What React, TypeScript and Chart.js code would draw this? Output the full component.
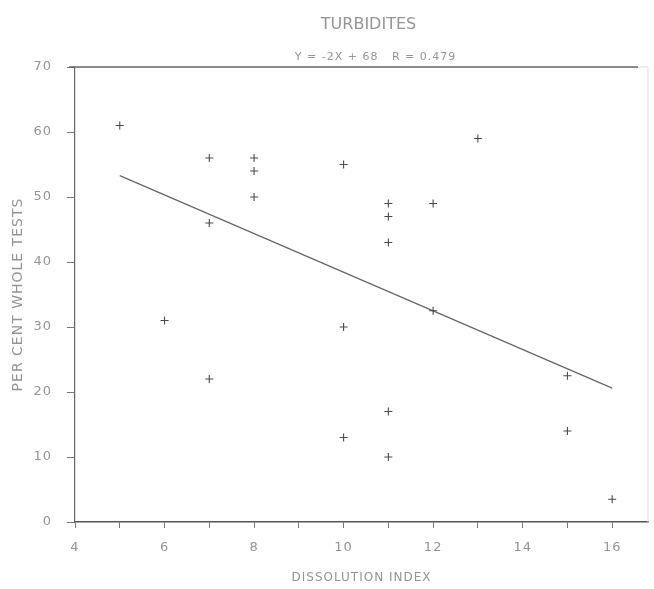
import { useEffect, useRef } from 'react';
import { Chart, registerables } from 'chart.js';

Chart.register(...registerables);

const TITLE = 'TURBIDITES';
const SUBTITLE = 'Y = -2X + 68   R = 0.479';
const X_TITLE = 'DISSOLUTION INDEX';
const Y_TITLE = 'PER CENT WHOLE TESTS';

const X_VALUES = [5, 6, 7, 7, 7, 8, 8, 8, 10, 10, 10, 11, 11, 11, 11, 11, 12, 12, 13, 15, 15, 16];
const Y_VALUES = [61, 31, 56, 46, 22, 56, 54, 50, 55, 30, 13, 49, 47, 43, 17, 10, 49, 32.5, 59, 22.5, 14, 3.5];

const FIT_X = [5, 16];
const FIT_Y = [53.3, 20.6];

const X_TICKS = [4, 5, 6, 7, 8, 9, 10, 11, 12, 13, 14, 15, 16];
const X_TICK_LABELS = ['4', '', '6', '', '8', '', '10', '', '12', '', '14', '', '16'];
const Y_TICKS = [0, 10, 20, 30, 40, 50, 60, 70];
const Y_TICK_LABELS = ['0', '10', '20', '30', '40', '50', '60', '70'];

const TEXT_COLOR = '#949494';
const FONT_FAMILY = "'DejaVu Sans', sans-serif";

export default function App() {
  const ref = useRef<HTMLCanvasElement>(null);

  useEffect(() => {
    document.body.style.margin = '0';
    const framePlugin = {
      id: 'frameAndTitles',
      beforeDraw(chart: any) {
        (chart.ctx as any).letterSpacing = '1px';
      },
      afterDraw(chart: any) {
        const { ctx, chartArea } = chart;
        const { left, right, top, bottom } = chartArea;
        ctx.save();
        ctx.strokeStyle = '#666';
        ctx.lineWidth = 1.5;
        ctx.beginPath();
        ctx.moveTo(left - 6, top);
        ctx.lineTo(right - 10, top);
        ctx.stroke();
        ctx.strokeStyle = '#ddd';
        ctx.lineWidth = 1;
        ctx.beginPath();
        ctx.moveTo(right - 10, top);
        ctx.lineTo(right, top);
        ctx.moveTo(right, top);
        ctx.lineTo(right, bottom);
        ctx.stroke();
        const cx = (left + right) / 2;
        ctx.fillStyle = TEXT_COLOR;
        ctx.textAlign = 'center';
        ctx.textBaseline = 'middle';
        (ctx as any).letterSpacing = '0px';
        ctx.font = `16px ${FONT_FAMILY}`;
        ctx.fillText(TITLE, cx + 7, 25);
        (ctx as any).letterSpacing = '1px';
        ctx.font = `11px ${FONT_FAMILY}`;
        ctx.fillText(SUBTITLE, cx + 14, 57);
        ctx.restore();
      },
    };

    const chart = new Chart(ref.current!, {
      type: 'scatter',
      data: {
        datasets: [
          {
            type: 'scatter',
            data: X_VALUES.map((x, i) => ({ x, y: Y_VALUES[i] })),
            pointStyle: 'cross',
            pointRadius: 4,
            borderColor: '#4a4a4a',
            backgroundColor: 'transparent',
            borderWidth: 1.1,
          },
          {
            type: 'line',
            data: FIT_X.map((x, i) => ({ x, y: FIT_Y[i] })),
            borderColor: '#666',
            borderWidth: 1.3,
            pointRadius: 0,
            fill: false,
          } as any,
        ],
      },
      options: {
        animation: false,
        responsive: true,
        maintainAspectRatio: false,
        layout: { padding: { top: 67, right: 6, left: 0, bottom: 0 } },
        plugins: {
          legend: { display: false },
          tooltip: { enabled: false },
          title: { display: false },
        },
        scales: {
          x: {
            type: 'linear',
            min: 4,
            max: 16.8,
            afterBuildTicks: (s: any) => {
              s.ticks = X_TICKS.map((v) => ({ value: v }));
            },
            afterFit: (s: any) => {
              s.height = 67;
            },
            ticks: {
              autoSkip: false,
              maxRotation: 0,
              padding: 12,
              color: TEXT_COLOR,
              font: { family: FONT_FAMILY, size: 13 },
              callback: (v: any) => X_TICK_LABELS[X_TICKS.indexOf(Number(v))] ?? '',
            },
            grid: { drawOnChartArea: false, drawTicks: true, tickLength: 6, color: '#777' },
            border: { display: true, color: '#555', width: 1.5 },
            title: {
              display: true,
              text: X_TITLE,
              color: TEXT_COLOR,
              font: { family: FONT_FAMILY, size: 12 },
              padding: { top: 4, bottom: 4 },
            },
          },
          y: {
            type: 'linear',
            min: 0,
            max: 70,
            afterBuildTicks: (s: any) => {
              s.ticks = Y_TICKS.map((v) => ({ value: v }));
            },
            afterFit: (s: any) => {
              s.width = 75;
            },
            ticks: {
              padding: 15,
              color: TEXT_COLOR,
              font: { family: FONT_FAMILY, size: 13 },
              callback: (v: any) => Y_TICK_LABELS[Y_TICKS.indexOf(Number(v))] ?? '',
            },
            grid: { drawOnChartArea: false, drawTicks: true, tickLength: 8, color: '#777' },
            border: { display: true, color: '#666', width: 1.2 },
            title: {
              display: true,
              text: Y_TITLE,
              color: TEXT_COLOR,
              font: { family: FONT_FAMILY, size: 14 },
              padding: { top: 10, bottom: 10 },
            },
          },
        },
      },
      plugins: [framePlugin],
    });
    return () => chart.destroy();
  }, []);

  return (
    <div style={{ position: 'relative', width: 654, height: 589 }}>
      <canvas ref={ref} />
    </div>
  );
}
